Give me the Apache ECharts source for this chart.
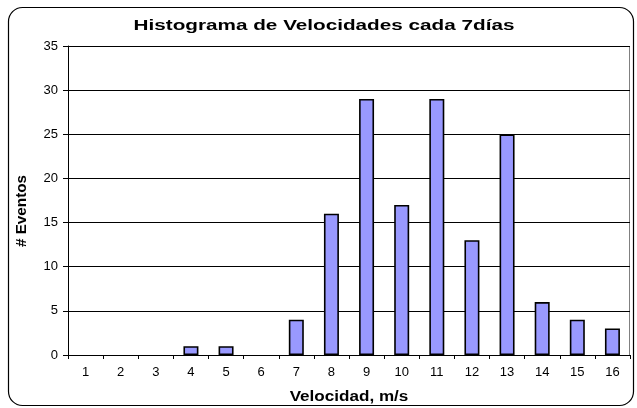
<!DOCTYPE html>
<html>
<head>
<meta charset="utf-8">
<script src="https://cdn.jsdelivr.net/npm/echarts@6/dist/echarts.min.js"></script>
<style>
html,body{margin:0;padding:0;background:#fff;}
#chart{width:637px;height:408px;}
</style>
</head>
<body>
<div id="chart"></div>
<script>
// Wind speed histogram: number of events per speed bin
const velocidades = ['1','2','3','4','5','6','7','8','9','10','11','12','13','14','15','16'];
const eventos = [0,0,0,1,1,0,4,16,29,17,29,13,25,6,4,3];
const ticksY = [0,5,10,15,20,25,30,35];

const chart = echarts.init(document.getElementById('chart'), null, {renderer:'canvas'});
const font = 'Arial, "Liberation Sans", sans-serif';

// empty bins get no outline so they stay invisible on the axis
const barData = eventos.map(v => v === 0 ? {value: v, itemStyle: {borderWidth: 0}} : v);

chart.setOption({
  animation: false,
  backgroundColor: '#fff',
  graphic: [
    {type:'rect', shape:{x:8.5,y:7.5,width:625,height:398,r:14}, style:{fill:null, stroke:'#000', lineWidth:1.2}, silent:true},
    {type:'rect', shape:{x:68.5,y:46.5,width:561,height:309}, style:{fill:null, stroke:'#808080', lineWidth:1}, silent:true, z:-1},
    {type:'text', x:324, y:26, scaleX:1.38, silent:true,
      style:{text:'Histograma de Velocidades cada 7días', font:'bold 15px ' + font, fill:'#000', textAlign:'center', textVerticalAlign:'middle'}},
    {type:'text', x:349, y:397, scaleX:1.22, silent:true,
      style:{text:'Velocidad, m/s', font:'bold 14px ' + font, fill:'#000', textAlign:'center', textVerticalAlign:'middle'}},
    {type:'text', x:22, y:211, rotation:Math.PI/2, scaleX:1.09, silent:true,
      style:{text:'# Eventos', font:'bold 14px ' + font, fill:'#000', textAlign:'center', textVerticalAlign:'middle'}}
  ],
  grid: {left: 68, top: 46, width: 562, height: 309, containLabel: false},
  xAxis: {
    type: 'category',
    data: velocidades,
    axisLine: {lineStyle: {color: '#000', width: 1}},
    axisTick: {show: true, alignWithLabel: false, length: 4, lineStyle: {color: '#000'}},
    axisLabel: {fontFamily: font, fontSize: 13, color: '#000', margin: 11},
    splitLine: {show: false}
  },
  yAxis: {
    type: 'value',
    min: 0, max: ticksY[ticksY.length-1], interval: 5,
    axisLine: {show: true, lineStyle: {color: '#000', width: 1}},
    axisTick: {show: true, length: 5, lineStyle: {color: '#000'}},
    axisLabel: {fontFamily: font, fontSize: 13, color: '#000', margin: 10},
    splitLine: {show: true, lineStyle: {color: '#000', width: 1}}
  },
  series: [{
    type: 'bar',
    data: barData,
    barWidth: 15,
    itemStyle: {color: '#9999FF', borderColor: '#000', borderWidth: 1.6}
  }]
});
</script>
</body>
</html>
